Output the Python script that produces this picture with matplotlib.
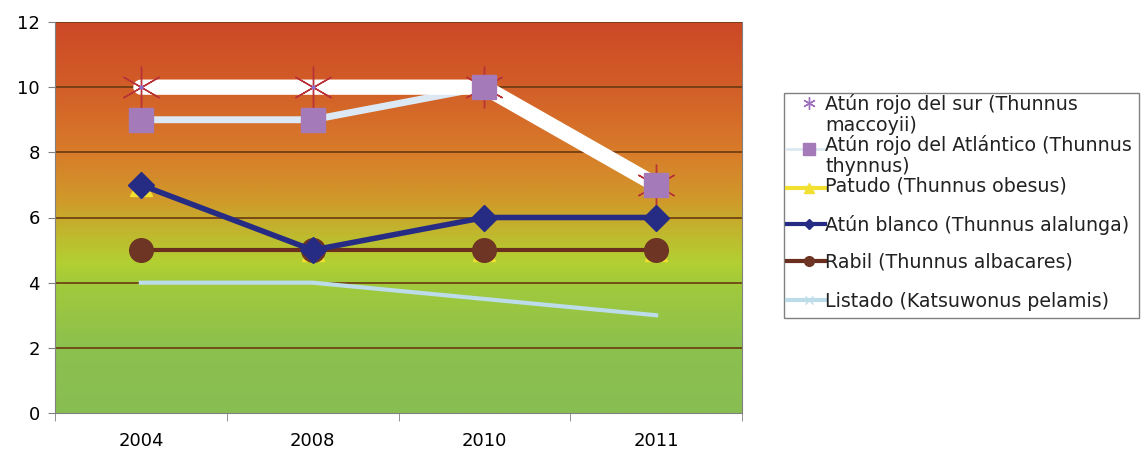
import numpy as np
import matplotlib
matplotlib.use("Agg")
import matplotlib.pyplot as plt
from matplotlib.colors import LinearSegmentedColormap
from matplotlib.lines import Line2D
from matplotlib.patches import Rectangle

plt.rcParams['font.family'] = ['DejaVu Sans']

years = ["2004", "2008", "2010", "2011"]
sur = [10, 10, 10, 7]
atlantico = [9, 9, 10, 7]
patudo = [7, 5, 5, 5]
blanco = [7, 5, 6, 6]
rabil = [5, 5, 5, 5]
listado = [4, 4, 3.5, 3]

labels = ["Atún rojo del sur (Thunnus\nmaccoyii)",
          "Atún rojo del Atlántico (Thunnus\nthynnus)",
          "Patudo (Thunnus obesus)",
          "Atún blanco (Thunnus alalunga)",
          "Rabil (Thunnus albacares)",
          "Listado (Katsuwonus pelamis)"]
yticks = [0, 2, 4, 6, 8, 10, 12]

W, H = 1142, 454
fig = plt.figure(figsize=(W / 100, H / 100), dpi=100)
ax = fig.add_axes([55 / W, 1 - 413 / H, (742 - 55) / W, (413 - 22) / H])

# gradient background
stops = [(0.0, '#88be52'), (2 / 12, '#8cc04e'), (4 / 12, '#a2ca3a'),
         (4.6 / 12, '#b2d032'), (5.5 / 12, '#c0b82e'), (6.5 / 12, '#d09a2a'),
         (8 / 12, '#d87c2a'), (10 / 12, '#d25e28'), (1.0, '#cc4826')]
cmap = LinearSegmentedColormap.from_list('bg', stops)
grad = np.linspace(0, 1, 256).reshape(-1, 1)
x = np.arange(len(years))
ax.imshow(grad, cmap=cmap, origin='lower', aspect='auto',
          extent=(-0.5, len(years) - 0.5, 0, 12), zorder=0)

for yv in yticks[1:]:
    ax.axhline(yv, color='#6a3a12', lw=1.2, zorder=1)

# series
ax.plot(x, atlantico, color='#dce9f4', lw=5, zorder=2)
ax.plot(x, sur, color='white', lw=11, solid_capstyle='round', zorder=3)
ax.plot(x, sur, linestyle='none', marker=(6, 2, 0), ms=30,
        mec='#b83238', mew=1.0, zorder=4)
ax.plot(x, sur, linestyle='none', marker='o', ms=3, mfc='#8c6ad0', mec='none', zorder=4)
ax.plot(x, patudo, color='#f2e030', lw=3, marker='^', ms=16,
        mfc='#f2e030', mec='#f2e030', zorder=5)
ax.plot(x, blanco, color='#262c84', lw=4, marker='D', ms=13,
        mfc='#262c84', mec='#262c84', zorder=7)
ax.plot(x, rabil, color='#6a2e1e', lw=3, marker='o', ms=17,
        mfc='#6e3424', mec='#6e3424', zorder=6)
ax.plot(x, listado, color='#bcdcea', lw=3, zorder=5)
ax.plot(x, atlantico, linestyle='none', marker='s', ms=17,
        mfc='#a47ab8', mec='#a47ab8', zorder=8)

ax.set_xlim(-0.5, len(years) - 0.5)
ax.set_ylim(0, 12)
ax.set_yticks(yticks)
ax.set_yticklabels([str(v) for v in yticks], fontsize=13)
ax.set_xticks(x)
ax.set_xticklabels(years, fontsize=13)
ax.set_xticks(np.arange(len(years) + 1) - 0.5, minor=True)
ax.tick_params(axis='x', which='major', length=0, pad=14)
ax.tick_params(axis='x', which='minor', length=6, color='#808080')
ax.tick_params(axis='y', length=5, color='#808080', pad=6)
for s in ['left', 'bottom', 'right']:
    ax.spines[s].set_color('#808080')
ax.spines['top'].set_visible(False)

# ---- legend (drawn manually to reproduce the tight two-line entries) ----
def fx(px):
    return px / W

def fy(py):
    return 1 - py / H

fig.add_artist(Rectangle((fx(784), fy(318)), fx(1139) - fx(784), fy(93) - fy(318),
                         transform=fig.transFigure, facecolor='white',
                         edgecolor='#808080', lw=1.0, zorder=1))

handle_styles = [
    dict(linestyle='none', marker=(6, 2, 0), ms=9, mec='#a070c0', mew=1),
    dict(color='#dce8f0', lw=2, marker='s', ms=8, mfc='#a47ab8', mec='#a47ab8'),
    dict(color='#f2e030', lw=3, marker='^', ms=7, mfc='#f2e030', mec='#f2e030'),
    dict(color='#262c84', lw=3, marker='D', ms=5, mfc='#262c84', mec='#262c84'),
    dict(color='#6a2e1e', lw=3, marker='o', ms=7, mfc='#6e3424', mec='#6e3424'),
    dict(color='#bcdcea', lw=3, marker='x', ms=6, mec='#bcdcea'),
]
handle_y = [103, 149, 188, 224, 261, 300]
text_baselines = [[110, 131], [151, 172], [191], [231], [267], [307]]

for lab, hs, hy, bls in zip(labels, handle_styles, handle_y, text_baselines):
    fig.add_artist(Line2D([fx(787), fx(809), fx(825)], [fy(hy)] * 3,
                          transform=fig.transFigure, markevery=[1], zorder=2, **hs))
    for line, bl in zip(lab.split("\n"), bls):
        fig.text(fx(825), fy(bl), line, fontsize=13.7, color='#222222',
                 ha='left', va='baseline', zorder=3)

fig.savefig('out.png', dpi=100)
